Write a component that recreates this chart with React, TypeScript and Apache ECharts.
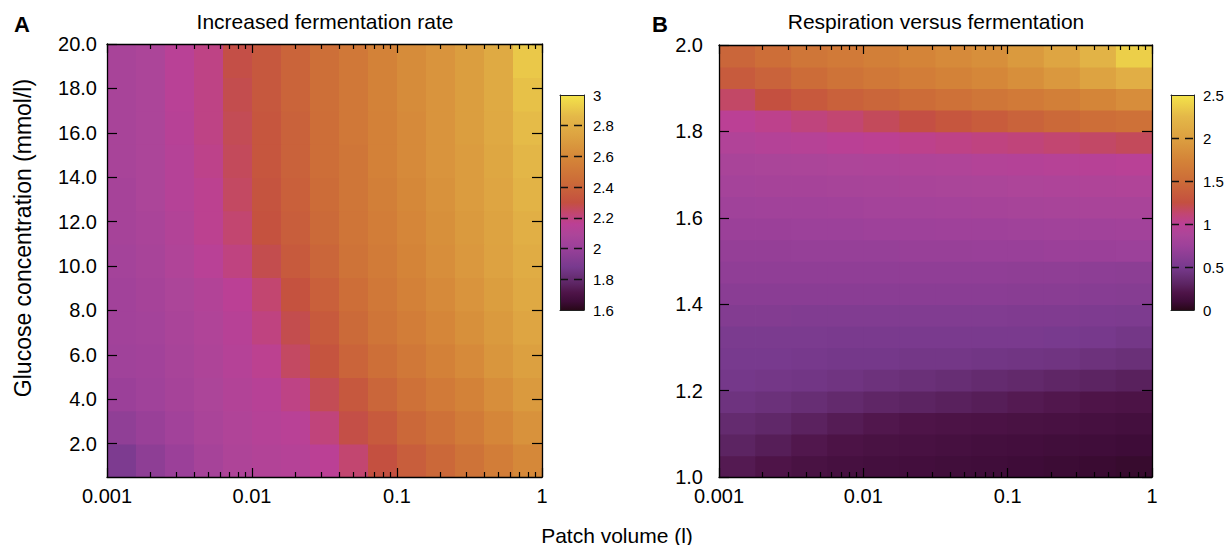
import React, { useEffect, useRef } from 'react';
import * as echarts from 'echarts';

// ---------- data ----------
const volumeTickValues = [0.001, 0.01, 0.1, 1];
const volumeTickLabels = ['0.001', '0.01', '0.1', '1'];
const glucoseTicks = [2, 4, 6, 8, 10, 12, 14, 16, 18, 20];
const ratioTicks = [1.0, 1.2, 1.4, 1.6, 1.8, 2.0];
const colorbarTicksA = [1.6, 1.8, 2.0, 2.2, 2.4, 2.6, 2.8, 3.0];
const colorbarTicksB = [0, 0.5, 1.0, 1.5, 2.0, 2.5];

// Panel A: cell centres (log10 patch volume) and glucose (mmol/l)
const logVolumeA = [-2.9, -2.7, -2.5, -2.3, -2.1, -1.9, -1.7, -1.5, -1.3, -1.1, -0.9, -0.7, -0.5, -0.3, -0.1];
const glucoseA = [1.25, 2.75, 4.25, 5.75, 7.25, 8.75, 10.25, 11.75, 13.25, 14.75, 16.25, 17.75, 19.25];
const fermentationRate = [
  [1.90, 1.96, 2.01, 2.06, 2.10, 2.12, 2.13, 2.16, 2.23, 2.30, 2.37, 2.42, 2.48, 2.54, 2.60],
  [1.97, 2.00, 2.04, 2.08, 2.11, 2.13, 2.15, 2.21, 2.29, 2.35, 2.42, 2.47, 2.53, 2.59, 2.65],
  [2.01, 2.03, 2.06, 2.09, 2.12, 2.14, 2.19, 2.27, 2.34, 2.41, 2.47, 2.52, 2.57, 2.63, 2.69],
  [2.03, 2.04, 2.07, 2.10, 2.13, 2.17, 2.25, 2.32, 2.40, 2.46, 2.51, 2.56, 2.61, 2.67, 2.72],
  [2.04, 2.05, 2.08, 2.11, 2.14, 2.20, 2.28, 2.35, 2.43, 2.49, 2.54, 2.59, 2.64, 2.69, 2.75],
  [2.04, 2.06, 2.09, 2.12, 2.16, 2.23, 2.31, 2.38, 2.45, 2.51, 2.56, 2.61, 2.66, 2.71, 2.77],
  [2.05, 2.07, 2.11, 2.15, 2.20, 2.28, 2.35, 2.41, 2.48, 2.53, 2.58, 2.63, 2.68, 2.73, 2.79],
  [2.06, 2.08, 2.12, 2.17, 2.23, 2.31, 2.37, 2.43, 2.49, 2.54, 2.59, 2.64, 2.69, 2.74, 2.81],
  [2.06, 2.09, 2.13, 2.17, 2.25, 2.32, 2.38, 2.44, 2.50, 2.55, 2.60, 2.65, 2.70, 2.75, 2.83],
  [2.07, 2.09, 2.13, 2.18, 2.26, 2.33, 2.39, 2.45, 2.50, 2.56, 2.61, 2.66, 2.70, 2.76, 2.85],
  [2.07, 2.09, 2.14, 2.19, 2.27, 2.33, 2.39, 2.45, 2.51, 2.56, 2.61, 2.66, 2.71, 2.77, 2.87],
  [2.07, 2.09, 2.15, 2.19, 2.28, 2.34, 2.40, 2.46, 2.51, 2.57, 2.62, 2.66, 2.71, 2.78, 2.89],
  [2.07, 2.09, 2.15, 2.19, 2.29, 2.34, 2.40, 2.46, 2.51, 2.57, 2.62, 2.66, 2.71, 2.78, 2.91],
];

// Panel B: cell centres (log10 patch volume) and y value
const logVolumeB = [-2.875, -2.625, -2.375, -2.125, -1.875, -1.625, -1.375, -1.125, -0.875, -0.625, -0.375, -0.125];
const ratioB = [1.025, 1.075, 1.125, 1.175, 1.225, 1.275, 1.325, 1.375, 1.425, 1.475, 1.525, 1.575, 1.625, 1.675, 1.725, 1.775, 1.825, 1.875, 1.925, 1.975];
const respirationVsFermentation = [
  [0.24, 0.20, 0.17, 0.15, 0.14, 0.13, 0.12, 0.11, 0.10, 0.09, 0.08, 0.07],
  [0.30, 0.26, 0.22, 0.19, 0.17, 0.16, 0.15, 0.14, 0.13, 0.12, 0.11, 0.10],
  [0.36, 0.33, 0.29, 0.25, 0.22, 0.20, 0.19, 0.18, 0.17, 0.16, 0.15, 0.14],
  [0.43, 0.41, 0.38, 0.35, 0.32, 0.30, 0.28, 0.26, 0.24, 0.22, 0.20, 0.19],
  [0.48, 0.47, 0.46, 0.44, 0.42, 0.40, 0.38, 0.36, 0.34, 0.32, 0.30, 0.28],
  [0.50, 0.50, 0.49, 0.48, 0.48, 0.47, 0.47, 0.46, 0.45, 0.44, 0.42, 0.40],
  [0.52, 0.52, 0.52, 0.51, 0.51, 0.51, 0.51, 0.51, 0.51, 0.50, 0.49, 0.47],
  [0.57, 0.57, 0.56, 0.56, 0.56, 0.56, 0.56, 0.56, 0.55, 0.55, 0.54, 0.53],
  [0.62, 0.62, 0.62, 0.62, 0.62, 0.62, 0.62, 0.62, 0.61, 0.61, 0.60, 0.59],
  [0.66, 0.66, 0.66, 0.66, 0.66, 0.66, 0.66, 0.66, 0.65, 0.65, 0.64, 0.63],
  [0.69, 0.69, 0.70, 0.70, 0.70, 0.71, 0.71, 0.72, 0.72, 0.73, 0.73, 0.74],
  [0.73, 0.73, 0.74, 0.74, 0.75, 0.75, 0.76, 0.76, 0.77, 0.78, 0.78, 0.79],
  [0.77, 0.78, 0.78, 0.79, 0.80, 0.80, 0.81, 0.82, 0.83, 0.84, 0.85, 0.85],
  [0.81, 0.82, 0.82, 0.83, 0.84, 0.85, 0.86, 0.87, 0.88, 0.89, 0.90, 0.91],
  [0.85, 0.86, 0.87, 0.88, 0.89, 0.90, 0.91, 0.93, 0.94, 0.96, 0.97, 0.98],
  [0.92, 0.94, 0.96, 0.99, 1.01, 1.03, 1.05, 1.07, 1.09, 1.12, 1.15, 1.18],
  [1.00, 1.03, 1.08, 1.12, 1.18, 1.24, 1.30, 1.36, 1.42, 1.47, 1.52, 1.55],
  [1.15, 1.25, 1.33, 1.40, 1.45, 1.50, 1.55, 1.60, 1.65, 1.70, 1.76, 1.83],
  [1.35, 1.42, 1.50, 1.57, 1.62, 1.68, 1.73, 1.78, 1.85, 1.93, 2.03, 2.15],
  [1.45, 1.52, 1.60, 1.65, 1.70, 1.75, 1.80, 1.85, 1.95, 2.05, 2.20, 2.38],
];

// ---------- styling ----------
const FONT = '"Liberation Sans", Arial, Helvetica, sans-serif';
const PALETTE: [number, string][] = [
  [0.0, '#280818'],
  [0.04, '#3e0c38'],
  [0.08, '#4e1448'],
  [0.12, '#5c2462'],
  [0.16, '#6a3078'],
  [0.2, '#783a8e'],
  [0.3, '#9e419a'],
  [0.35, '#ac4599'],
  [0.4, '#bb4095'],
  [0.45, '#c24670'],
  [0.5, '#c45040'],
  [0.6, '#cc6c38'],
  [0.7, '#d48438'],
  [0.8, '#dca040'],
  [0.9, '#e4b848'],
  [1.0, '#f4e44a'],
];

function hexRgb(h: string): number[] {
  return [parseInt(h.slice(1, 3), 16), parseInt(h.slice(3, 5), 16), parseInt(h.slice(5, 7), 16)];
}
function paletteColor(t: number): string {
  const u = Math.max(0, Math.min(1, t));
  for (let i = 1; i < PALETTE.length; i++) {
    if (u <= PALETTE[i][0]) {
      const [t0, c0] = PALETTE[i - 1];
      const [t1, c1] = PALETTE[i];
      const f = (u - t0) / (t1 - t0);
      const a = hexRgb(c0), b = hexRgb(c1);
      const m = a.map((v, k) => Math.round(v + (b[k] - v) * f));
      return `rgb(${m[0]},${m[1]},${m[2]})`;
    }
  }
  return PALETTE[PALETTE.length - 1][1];
}

const majorLogs = volumeTickValues.map((v) => Math.log10(v));
const minorLogs: number[] = [];
for (let d = -3; d < 0; d++) for (let k = 2; k <= 9; k++) minorLogs.push(d + Math.log10(k));

const BLACK = '#000';
const lineStyle = { color: BLACK, width: 1.3 };

function xAxisMajor(grid: number, pos: string, withLabels: boolean) {
  return {
    type: 'value', gridIndex: grid, position: pos, min: -3, max: 0, interval: 1, z: 10,
    axisLine: { show: true, onZero: false, lineStyle },
    axisTick: { show: true, inside: true, length: 9, customValues: majorLogs, lineStyle: { color: BLACK, width: 1.2 } },
    axisLabel: {
      show: withLabels, customValues: majorLogs, fontSize: 20, color: BLACK, fontFamily: FONT, margin: 9,
      formatter: (v: number) => {
        const i = majorLogs.findIndex((m) => Math.abs(m - v) < 1e-6);
        return i >= 0 ? volumeTickLabels[i] : '';
      },
    },
    splitLine: { show: false },
  };
}
function xAxisMinor(grid: number, pos: string) {
  return {
    type: 'value', gridIndex: grid, position: pos, min: -3, max: 0, interval: 1, z: 10,
    axisLine: { show: false },
    axisTick: { show: true, inside: true, length: 5, customValues: minorLogs, lineStyle: { color: BLACK, width: 1.2 } },
    axisLabel: { show: false },
    splitLine: { show: false },
  };
}
function yAxisPlot(grid: number, pos: string, min: number, max: number, ticks: number[], withLabels: boolean, margin: number) {
  return {
    type: 'value', gridIndex: grid, position: pos, min, max, z: 10,
    axisLine: { show: true, onZero: false, lineStyle },
    axisTick: { show: true, inside: true, length: 10, customValues: ticks, lineStyle: { color: BLACK, width: 1.2 } },
    axisLabel: {
      show: withLabels, customValues: ticks, fontSize: 20, color: BLACK, fontFamily: FONT, margin,
      formatter: (v: number) => v.toFixed(1),
    },
    splitLine: { show: false },
  };
}

function cellSeries(xi: number, yi: number, cols: number[], rows: number[], vals: number[][], vmin: number, vmax: number) {
  const dx = cols[1] - cols[0];
  const dy = rows[1] - rows[0];
  const data: number[][] = [];
  rows.forEach((r, i) => cols.forEach((c, j) => data.push([c, r, vals[i][j]])));
  return {
    type: 'custom', xAxisIndex: xi, yAxisIndex: yi, clip: true, silent: true, z: 2,
    data,
    renderItem: (_p: any, api: any) => {
      const x = api.value(0), y = api.value(1), v = api.value(2);
      const a = api.coord([x - dx / 2, y + dy / 2]);
      const b = api.coord([x + dx / 2, y - dy / 2]);
      return {
        type: 'rect',
        shape: { x: a[0], y: a[1], width: b[0] - a[0] + 0.8, height: b[1] - a[1] + 0.8 },
        style: { fill: paletteColor((v - vmin) / (vmax - vmin)) },
      };
    },
  };
}

function colorbarSeries(xi: number, yi: number, vmin: number, vmax: number) {
  return {
    type: 'custom', xAxisIndex: xi, yAxisIndex: yi, silent: true, z: 2,
    data: [[0, vmin, 1, vmax]],
    renderItem: (_p: any, api: any) => {
      const a = api.coord([0, vmax]);
      const b = api.coord([1, vmin]);
      return {
        type: 'rect',
        shape: { x: a[0], y: a[1], width: b[0] - a[0], height: b[1] - a[1] },
        style: {
          fill: new echarts.graphic.LinearGradient(0, 1, 0, 0, PALETTE.map(([t, c]) => ({ offset: t, color: c }))),
        },
      };
    },
  };
}

function cbXAxis(grid: number, pos: string) {
  return {
    type: 'value', gridIndex: grid, position: pos, min: 0, max: 1, z: 10,
    axisLine: { show: true, onZero: false, lineStyle: { color: '#222', width: 1 } },
    axisTick: { show: false }, axisLabel: { show: false }, splitLine: { show: false },
  };
}
function cbYAxis(grid: number, pos: string, min: number, max: number, interval: number, ticks: number[], withLabels: boolean) {
  return {
    type: 'value', gridIndex: grid, position: pos, min, max, interval, z: 10,
    axisLine: { show: true, onZero: false, lineStyle: { color: '#222', width: 1 } },
    axisTick: { show: false },
    axisLabel: {
      show: withLabels, customValues: ticks, fontSize: 15, color: BLACK, fontFamily: FONT, margin: 9,
      formatter: (v: number) => String(Number(v.toFixed(2))),
    },
    splitLine: withLabels
      ? { show: true, showMinLine: false, showMaxLine: false, lineStyle: { color: '#111', width: 1.4, type: [8, 6] } }
      : { show: false },
  };
}

export default function App() {
  const ref = useRef<HTMLDivElement>(null);
  useEffect(() => {
    if (!ref.current) return;
    const chart = echarts.init(ref.current, undefined, { renderer: 'svg' });
    const option: any = {
      animation: false,
      backgroundColor: '#fff',
      textStyle: { fontFamily: FONT },
      grid: [
        { left: 107, top: 44, width: 435, height: 433, outerBoundsMode: 'none' },
        { left: 719, top: 45, width: 433, height: 432, outerBoundsMode: 'none' },
        { left: 560, top: 95, width: 24, height: 215, outerBoundsMode: 'none' },
        { left: 1171, top: 95, width: 23, height: 215, outerBoundsMode: 'none' },
      ],
      xAxis: [
        xAxisMajor(0, 'bottom', true),
        xAxisMinor(0, 'bottom'),
        xAxisMajor(0, 'top', false),
        xAxisMinor(0, 'top'),
        xAxisMajor(1, 'bottom', true),
        xAxisMinor(1, 'bottom'),
        xAxisMajor(1, 'top', false),
        xAxisMinor(1, 'top'),
        cbXAxis(2, 'bottom'),
        cbXAxis(2, 'top'),
        cbXAxis(3, 'bottom'),
        cbXAxis(3, 'top'),
      ],
      yAxis: [
        yAxisPlot(0, 'left', 0.5, 20, glucoseTicks, true, 10),
        yAxisPlot(0, 'right', 0.5, 20, glucoseTicks, false, 10),
        yAxisPlot(1, 'left', 1, 2, ratioTicks, true, 16),
        yAxisPlot(1, 'right', 1, 2, ratioTicks, false, 16),
        cbYAxis(2, 'right', 1.6, 3, 0.2, colorbarTicksA, true),
        cbYAxis(2, 'left', 1.6, 3, 0.2, colorbarTicksA, false),
        cbYAxis(3, 'right', 0, 2.5, 0.5, colorbarTicksB, true),
        cbYAxis(3, 'left', 0, 2.5, 0.5, colorbarTicksB, false),
      ],
      series: [
        cellSeries(0, 0, logVolumeA, glucoseA, fermentationRate, 1.6, 3.0),
        cellSeries(4, 2, logVolumeB, ratioB, respirationVsFermentation, 0, 2.5),
        colorbarSeries(8, 4, 1.6, 3.0),
        colorbarSeries(10, 6, 0, 2.5),
      ],
      graphic: [
        { type: 'text', x: 14, y: 24, style: { text: 'A', font: `bold 22px ${FONT}`, fill: BLACK, verticalAlign: 'middle' } },
        { type: 'text', x: 652, y: 24, style: { text: 'B', font: `bold 22px ${FONT}`, fill: BLACK, verticalAlign: 'middle' } },
        { type: 'text', x: 325, y: 21, style: { text: 'Increased fermentation rate', font: `21px ${FONT}`, fill: BLACK, align: 'center', verticalAlign: 'middle' } },
        { type: 'text', x: 936, y: 21, style: { text: 'Respiration versus fermentation', font: `21px ${FONT}`, fill: BLACK, align: 'center', verticalAlign: 'middle' } },
        { type: 'text', x: 617, y: 535, style: { text: 'Patch volume (l)', font: `21px ${FONT}`, fill: BLACK, align: 'center', verticalAlign: 'middle' } },
        { type: 'text', x: 23, y: 238, rotation: Math.PI / 2, style: { text: 'Glucose concentration (mmol/l)', font: `23px ${FONT}`, fill: BLACK, align: 'center', verticalAlign: 'middle' } },
      ],
    };
    chart.setOption(option);
    return () => chart.dispose();
  }, []);
  return <div ref={ref} style={{ position: 'fixed', left: 0, top: 0, width: 1231, height: 545, background: '#fff' }} />;
}
